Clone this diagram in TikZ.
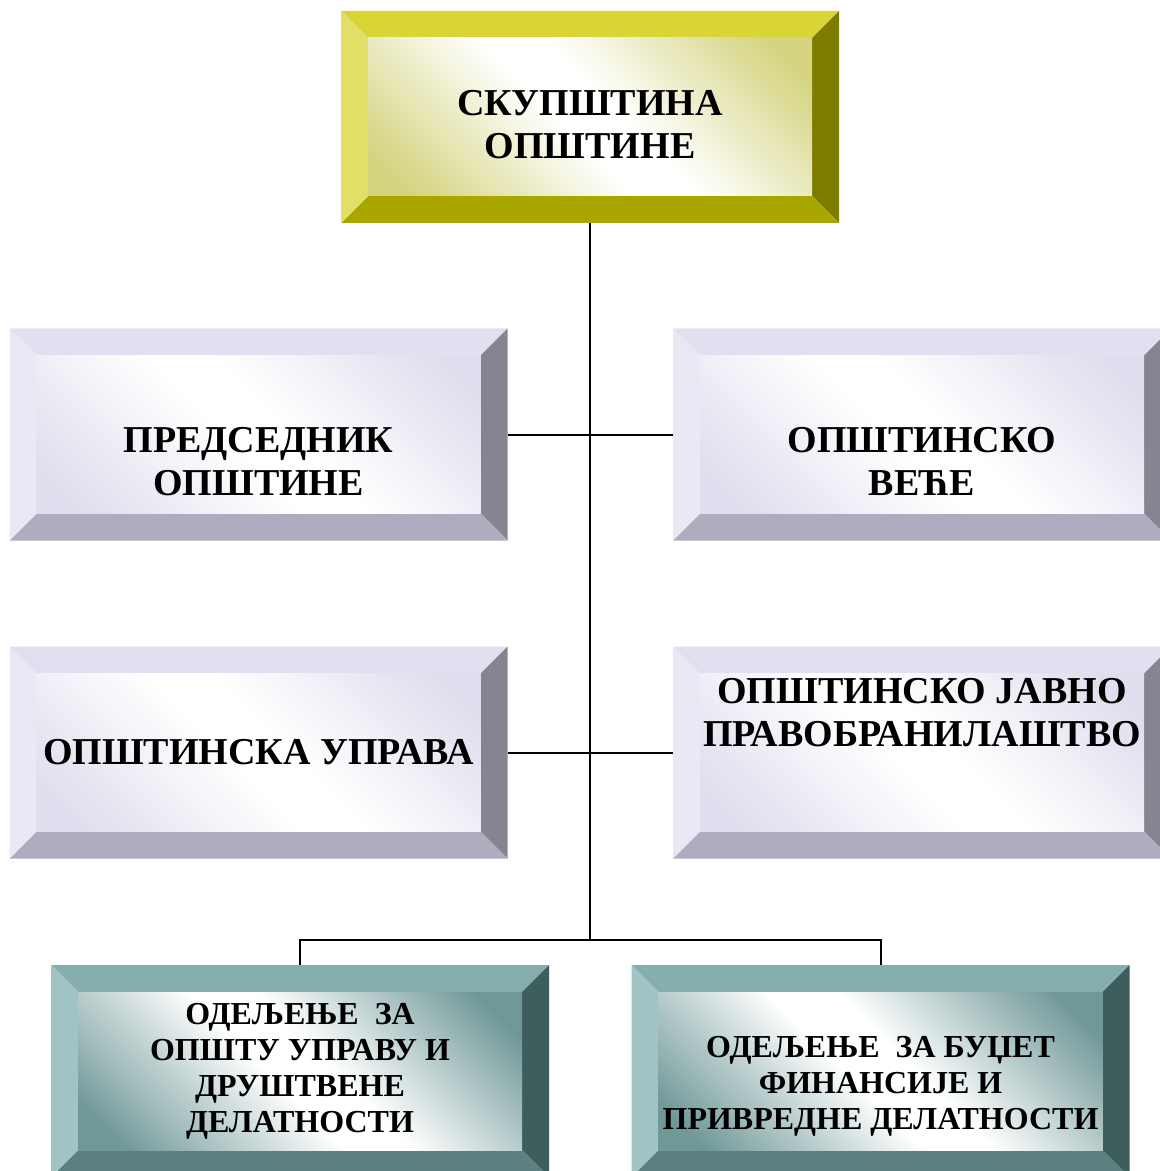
\documentclass[tikz,border=0pt]{standalone}
\usepackage{fontspec}
\setmainfont{Liberation Serif}
\usepackage{tikz}
\definecolor{yel_top}{RGB}{216,213,53}
\definecolor{yel_left}{RGB}{225,223,104}
\definecolor{yel_right}{RGB}{126,124,0}
\definecolor{yel_bot}{RGB}{169,166,0}
\definecolor{yel_in}{RGB}{212,212,128}
\definecolor{lav_top}{RGB}{224,224,240}
\definecolor{lav_left}{RGB}{233,233,245}
\definecolor{lav_right}{RGB}{133,133,146}
\definecolor{lav_bot}{RGB}{173,173,191}
\definecolor{lav_in}{RGB}{222,222,238}
\definecolor{teal_top}{RGB}{134,174,174}
\definecolor{teal_left}{RGB}{160,196,196}
\definecolor{teal_right}{RGB}{62,94,94}
\definecolor{teal_bot}{RGB}{90,128,128}
\definecolor{teal_in}{RGB}{112,152,152}

% inner face: white band along the diagonal, tint in two corners
\pgfdeclareverticalshading{yel_shade}{100bp}{color(0bp)=(yel_in); color(20bp)=(yel_in); color(46bp)=(white); color(54bp)=(white); color(80bp)=(yel_in); color(100bp)=(yel_in)}
\pgfdeclareverticalshading{lav_shade}{100bp}{color(0bp)=(lav_in); color(20bp)=(lav_in); color(46bp)=(white); color(54bp)=(white); color(80bp)=(lav_in); color(100bp)=(lav_in)}
\pgfdeclareverticalshading{teal_shade}{100bp}{color(0bp)=(teal_in); color(20bp)=(teal_in); color(46bp)=(white); color(54bp)=(white); color(80bp)=(teal_in); color(100bp)=(teal_in)}

\tikzset{
	bevbox/.style={rectangle,minimum width=249pt,minimum height=106pt,inner sep=0pt,align=center,
		font=\bfseries\fontsize{19}{21.5}\selectfont,
		path picture={
			\path (path picture bounding box.north west) coordinate (bv1)
				(path picture bounding box.north east) coordinate (bv2)
				(path picture bounding box.south east) coordinate (bv3)
				(path picture bounding box.south west) coordinate (bv4);
			\path (bv1) ++(13.5pt,-13.5pt) coordinate (bw1)
				(bv2) ++(-13.5pt,-13.5pt) coordinate (bw2)
				(bv3) ++(-13.5pt,13.5pt) coordinate (bw3)
				(bv4) ++(13.5pt,13.5pt) coordinate (bw4);
			\fill[#1_top] (bv1) -- (bv2) -- (bw2) -- (bw1) -- cycle;
			\fill[#1_right] (bv2) -- (bv3) -- (bw3) -- (bw2) -- cycle;
			\fill[#1_bot] (bv3) -- (bv4) -- (bw4) -- (bw3) -- cycle;
			\fill[#1_left] (bv4) -- (bv1) -- (bw1) -- (bw4) -- cycle;
			\shade[shading=#1_shade,shading angle=135] (bw1) rectangle (bw3);
		}},
	small/.style={font=\bfseries\fontsize{16}{18}\selectfont},
	link/.style={black,line width=1pt}
}

\begin{document}
\begin{tikzpicture}[x=0.5pt,y=-0.5pt]
	\useasboundingbox (0,0) rectangle (1160,1171);
	\clip (0,0) rectangle (1160,1171);

	\node[bevbox=yel,text height=41.9pt] (skup) at (590,117) {СКУПШТИНА\\ОПШТИНЕ};
	\node[bevbox=lav,text height=60.9pt] (pred) at (258.5,434.5) {ПРЕДСЕДНИК\\ОПШТИНЕ};
	\node[bevbox=lav,text height=60.9pt] (vece) at (922,434.5) {ОПШТИНСКО\\ВЕЋЕ};
	\node[bevbox=lav] (uprava) at (258.5,752.5) {ОПШТИНСКА УПРАВА};
	\node[bevbox=lav,text depth=40pt] (pravo) at (922,752.5) {ОПШТИНСКО ЈАВНО\\ПРАВОБРАНИЛАШТВО};
	\node[bevbox=teal,small] (odj1) at (300,1071) {ОДЕЉЕЊЕ~ ЗА\\ОПШТУ УПРАВУ И\\ДРУШТВЕНЕ\\ДЕЛАТНОСТИ};
	\node[bevbox=teal,small,text height=61.5pt] (odj2) at (880.5,1071) {ОДЕЉЕЊЕ~ ЗА БУЏЕТ\\ФИНАНСИЈЕ И\\ПРИВРЕДНЕ ДЕЛАТНОСТИ};

	\coordinate (j) at (590,940);
	\draw[link] (skup.south) -- (j);
	\draw[link] (pred.east) -- (vece.west);
	\draw[link] (uprava.east) -- (pravo.west);
	\draw[link] (odj1.north) -- ++(0,-25) -| (odj2.north);
\end{tikzpicture}
\end{document}
